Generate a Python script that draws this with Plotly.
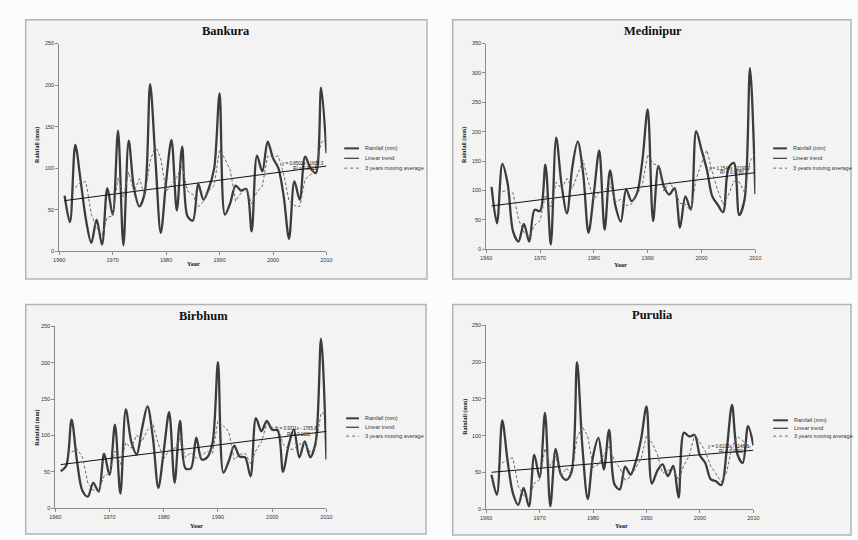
import numpy as np
import pandas as pd
import plotly.graph_objects as go

# Annual rainfall (mm), 1961-2010, for four districts
years = list(range(1961, 2011))

bankura = [67, 35, 128, 85, 38, 10, 38, 8, 76, 44,
           145, 7, 133, 75, 54, 70, 201, 110, 22, 84,
           134, 49, 126, 42, 37, 81, 62, 76, 100, 190,
           44, 58, 79, 73, 75, 24, 115, 96, 132, 112,
           100, 66, 15, 84, 62, 114, 100, 94, 197, 118]

medinipur = [106, 44, 145, 111, 30, 13, 43, 13, 67, 65,
             144, 8, 190, 110, 61, 140, 183, 130, 28, 95,
             168, 33, 134, 74, 47, 102, 82, 95, 150, 238,
             48, 142, 107, 93, 104, 37, 90, 68, 201, 169,
             135, 90, 76, 63, 138, 147, 58, 85, 308, 94]

birbhum = [51, 58, 122, 65, 24, 16, 35, 23, 75, 46,
           115, 20, 136, 92, 74, 110, 140, 97, 28, 79,
           132, 35, 120, 55, 55, 97, 67, 70, 90, 201,
           49, 65, 86, 71, 70, 44, 124, 106, 120, 108,
           107, 50, 86, 108, 70, 92, 70, 90, 233, 67]

purulia = [47, 20, 121, 66, 22, 6, 29, 4, 74, 43,
           131, 4, 82, 47, 40, 52, 200, 85, 14, 72,
           97, 54, 108, 34, 27, 58, 47, 65, 96, 140,
           35, 52, 61, 45, 59, 16, 104, 99, 101, 73,
           63, 41, 38, 33, 80, 142, 75, 63, 113, 87]

district_names = ["Bankura", "Medinipur", "Birbhum", "Purulia"]
district_values = [bankura, medinipur, birbhum, purulia]
y_max = [250, 350, 250, 250]
y_ticks = [[0, 50, 100, 150, 200, 250],
           [0, 50, 100, 150, 200, 250, 300, 350],
           [0, 50, 100, 150, 200, 250],
           [0, 50, 100, 150, 200, 250]]
x_ticks = [1960, 1970, 1980, 1990, 2000, 2010]
legend_labels = ["Rainfall (mm)", "Linear trend", "3 years moving average"]

W, H = 858, 540


def px(x):
    return x / W


def py(y):
    return 1 - y / H


# Pixel layout of each panel
panels = [
    dict(box=(20, 17, 427, 279), plot=(54, 41, 325, 251), title=(223, 28),
         ytitle=(32, 144), xtitle=(190, 263), legend=(343, 358, 362, [147, 157, 167]),
         eq=(2001.3, 106, 99)),
    dict(box=(453, 17, 857, 279), plot=(487, 41, 760, 249), title=(656, 28),
         ytitle=(465, 143), xtitle=(623, 264), legend=(778, 792, 796, [147, 157, 167]),
         eq=(2001.0, 138, 130)),
    dict(box=(20, 305, 426, 537), plot=(50, 327, 325, 511), title=(200, 317),
         ytitle=(32, 430), xtitle=(193, 528), legend=(345, 358, 362, [420, 429, 438]),
         eq=(2000.4, 109, 102)),
    dict(box=(453, 305, 857, 538), plot=(487, 326, 758, 512), title=(656, 315),
         ytitle=(466, 418), xtitle=(624, 528), legend=(778, 793, 797, [422, 430, 438]),
         eq=(2001.1, 85, 78)),
]

RAIN_COLOR = "#3c3c3c"
TREND_COLOR = "#111111"
MA_COLOR = "#6a6a6a"
SERIF = "Liberation Serif, DejaVu Serif, serif"
SANS = "Liberation Sans, Arial, sans-serif"

fig = go.Figure()
shapes = []
annotations = []
layout_axes = {}

for i, (name, vals) in enumerate(zip(district_names, district_values)):
    p = panels[i]
    k = "" if i == 0 else str(i + 1)
    xref, yref = "x" + k, "y" + k
    yr = np.array(years, dtype=float)
    v = np.array(vals, dtype=float)

    # least-squares trend and 3-year trailing moving average
    slope, intercept = np.polyfit(yr, v, 1)
    fitted = slope * yr + intercept
    r2 = 1 - np.sum((v - fitted) ** 2) / np.sum((v - v.mean()) ** 2)
    ma = pd.Series(v).rolling(3).mean()

    fig.add_trace(go.Scatter(x=years, y=vals, mode="lines", xaxis=xref, yaxis=yref,
                             line=dict(color=RAIN_COLOR, width=2.3, shape="spline", smoothing=0.9),
                             showlegend=False, hoverinfo="x+y"))
    fig.add_trace(go.Scatter(x=years, y=fitted, mode="lines", xaxis=xref, yaxis=yref,
                             line=dict(color=TREND_COLOR, width=1),
                             showlegend=False))
    fig.add_trace(go.Scatter(x=years[2:], y=ma[2:], mode="lines", xaxis=xref, yaxis=yref,
                             line=dict(color=MA_COLOR, width=1, dash="3px,2px"),
                             showlegend=False))

    x0, y0, x1, y1 = p["plot"]
    axis_style = dict(showgrid=False, zeroline=False, showline=True, linecolor="#8a8a8a",
                      linewidth=1, ticks="outside", ticklen=3, tickcolor="#8a8a8a",
                      tickfont=dict(family=SANS, size=5.5, color="#333333"))
    layout_axes["xaxis" + k] = dict(domain=[px(x0), px(x1)], range=[1960, 2010],
                                    tickvals=x_ticks, anchor=yref, **axis_style)
    layout_axes["yaxis" + k] = dict(domain=[py(y1), py(y0)], range=[0, y_max[i]],
                                    tickvals=y_ticks[i], anchor=xref, **axis_style)

    # panel frame
    bx0, by0, bx1, by1 = p["box"]
    shapes.append(dict(type="rect", xref="paper", yref="paper", layer="below",
                       x0=px(bx0), x1=px(bx1), y0=py(by1), y1=py(by0),
                       fillcolor="#f3f3f3", line=dict(color="#b4b4b4", width=1.5)))

    # titles
    tx, ty = p["title"]
    annotations.append(dict(text="<b>%s</b>" % name, x=px(tx), y=py(ty), xref="paper",
                            yref="paper", showarrow=False, xanchor="center", yanchor="middle",
                            font=dict(family=SERIF, size=12.5, color="#111111")))
    ax_, ay_ = p["ytitle"]
    annotations.append(dict(text="<b>Rainfall (mm)</b>", x=px(ax_), y=py(ay_), xref="paper",
                            yref="paper", showarrow=False, textangle=-90,
                            xanchor="center", yanchor="middle",
                            font=dict(family=SERIF, size=6, color="#222222")))
    bxt, byt = p["xtitle"]
    annotations.append(dict(text="<b>Year</b>", x=px(bxt), y=py(byt), xref="paper",
                            yref="paper", showarrow=False, xanchor="center", yanchor="middle",
                            font=dict(family=SERIF, size=6.5, color="#222222")))

    # trend equation
    ex, ey1, ey2 = p["eq"]
    sign = "-" if intercept < 0 else "+"
    annotations.append(dict(text="y = %.4fx %s %.1f" % (slope, sign, abs(intercept)),
                            x=ex, y=ey1, xref=xref, yref=yref, showarrow=False,
                            xanchor="left", yanchor="middle",
                            font=dict(family=SANS, size=4.5, color="#222222")))
    annotations.append(dict(text="R² = %.4f" % r2, x=ex + 2, y=ey2, xref=xref, yref=yref,
                            showarrow=False, xanchor="left", yanchor="middle",
                            font=dict(family=SANS, size=4.5, color="#222222")))

    # legend
    lx0, lx1, ltx, lys = p["legend"]
    styles = [dict(color=RAIN_COLOR, width=2), dict(color=TREND_COLOR, width=1),
              dict(color=MA_COLOR, width=1, dash="dot")]
    for label, ly, st in zip(legend_labels, lys, styles):
        shapes.append(dict(type="line", xref="paper", yref="paper",
                           x0=px(lx0), x1=px(lx1), y0=py(ly), y1=py(ly), line=st))
        annotations.append(dict(text=label, x=px(ltx), y=py(ly), xref="paper", yref="paper",
                                showarrow=False, xanchor="left", yanchor="middle",
                                font=dict(family=SANS, size=5.5, color="#333333")))

fig.update_layout(width=W, height=H, margin=dict(l=0, r=0, t=0, b=0),
                  paper_bgcolor="#fcfcfc", plot_bgcolor="rgba(0,0,0,0)",
                  shapes=shapes, annotations=annotations, showlegend=False,
                  **layout_axes)

fig.write_html("out.html")
